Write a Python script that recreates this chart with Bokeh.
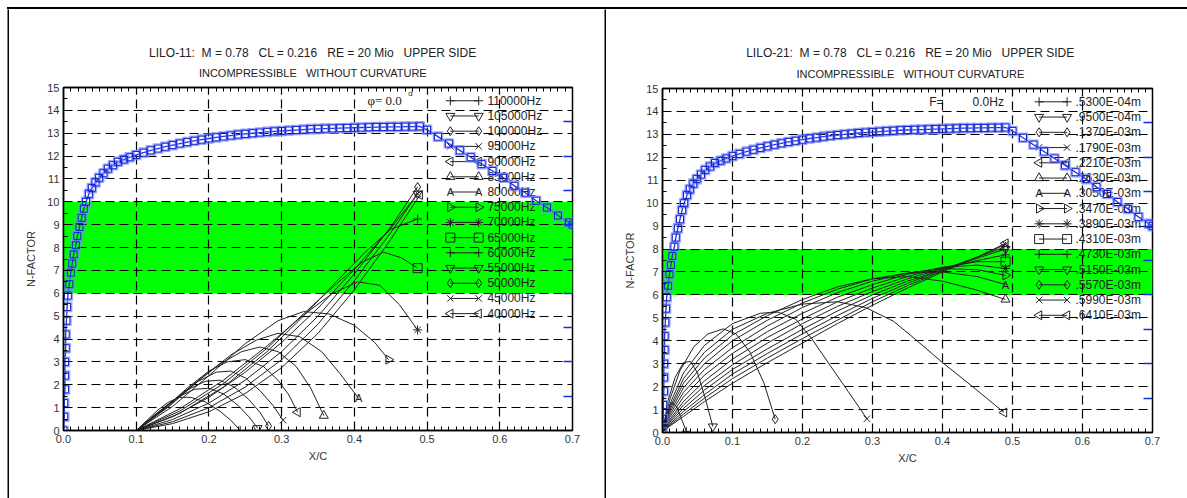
import math
from bokeh.plotting import figure
from bokeh.layouts import row, column
from bokeh.models import (FixedTicker, LinearAxis, Label, BoxAnnotation, Div, Spacer,
                          NumeralTickFormatter, Range1d)
from bokeh.core.properties import value
from bokeh.embed import file_html
from bokeh.resources import INLINE

# ---------------- data ----------------
x_ticks = [0.0, 0.1, 0.2, 0.3, 0.4, 0.5, 0.6, 0.7]
n_ticks = list(range(0, 16))
blue_ticks = [1.5, 3.0, 4.5, 6.0, 7.5, 9.0, 10.5, 12.0, 13.5]

# envelope of the N-factor curves (same on both sides)
env_x = [0.000, 0.001, 0.001, 0.002, 0.002, 0.002, 0.003, 0.003, 0.004, 0.005,
         0.006, 0.008, 0.010, 0.012, 0.014, 0.017, 0.019, 0.022, 0.025, 0.028,
         0.031, 0.035, 0.039, 0.044, 0.049, 0.055, 0.061, 0.068, 0.075, 0.083,
         0.091, 0.100, 0.110, 0.120, 0.130, 0.140, 0.150, 0.160, 0.170, 0.180,
         0.190, 0.200, 0.210, 0.220, 0.230, 0.240, 0.250, 0.260, 0.270, 0.280,
         0.290, 0.300, 0.310, 0.320, 0.330, 0.340, 0.350, 0.360, 0.370, 0.380,
         0.390, 0.400, 0.410, 0.420, 0.430, 0.440, 0.450, 0.460, 0.470, 0.480,
         0.490, 0.500, 0.515, 0.530, 0.545, 0.560, 0.575, 0.590, 0.605, 0.620,
         0.635, 0.650, 0.665, 0.680, 0.695, 0.700]
env_n = [0.00, 0.60, 1.20, 1.80, 2.40, 3.00, 3.60, 4.20, 4.80, 5.40,
         5.90, 6.40, 6.90, 7.30, 7.70, 8.10, 8.50, 8.90, 9.30, 9.70,
         10.00, 10.35, 10.60, 10.85, 11.05, 11.25, 11.45, 11.60, 11.75, 11.85,
         11.95, 12.05, 12.15, 12.25, 12.33, 12.41, 12.48, 12.55, 12.61, 12.67,
         12.72, 12.77, 12.82, 12.86, 12.90, 12.94, 12.97, 13.00, 13.03, 13.06,
         13.08, 13.10, 13.12, 13.14, 13.16, 13.18, 13.19, 13.20, 13.21, 13.22,
         13.23, 13.24, 13.25, 13.26, 13.27, 13.27, 13.28, 13.28, 13.29, 13.29,
         13.30, 13.15, 12.85, 12.55, 12.25, 11.95, 11.65, 11.35, 11.05, 10.70,
         10.40, 10.05, 9.75, 9.40, 9.10, 9.00]

# LILO-11: fixed frequencies
freq_labels = ["110000Hz", "105000Hz", "100000Hz", "95000Hz", "90000Hz",
               "85000Hz", "80000Hz", "75000Hz", "70000Hz", "65000Hz",
               "60000Hz", "55000Hz", "50000Hz", "45000Hz", "40000Hz"]
freq_x = [
    [0.100, 0.115, 0.130, 0.145, 0.160, 0.175, 0.195, 0.215, 0.230, 0.243],
    [0.100, 0.120, 0.140, 0.160, 0.180, 0.200, 0.220, 0.240, 0.255, 0.267],
    [0.100, 0.125, 0.150, 0.175, 0.195, 0.215, 0.235, 0.255, 0.270, 0.282],
    [0.100, 0.130, 0.160, 0.185, 0.210, 0.230, 0.250, 0.270, 0.288, 0.302],
    [0.100, 0.135, 0.170, 0.200, 0.225, 0.250, 0.275, 0.295, 0.310, 0.322],
    [0.100, 0.140, 0.180, 0.215, 0.245, 0.270, 0.295, 0.320, 0.340, 0.358],
    [0.100, 0.145, 0.190, 0.230, 0.265, 0.295, 0.325, 0.355, 0.380, 0.406],
    [0.100, 0.150, 0.200, 0.250, 0.295, 0.330, 0.365, 0.400, 0.428, 0.447],
    [0.100, 0.160, 0.220, 0.280, 0.330, 0.370, 0.405, 0.435, 0.462, 0.487],
    [0.100, 0.160, 0.220, 0.280, 0.330, 0.375, 0.410, 0.440, 0.465, 0.487],
    [0.100, 0.160, 0.220, 0.280, 0.330, 0.375, 0.415, 0.450, 0.487],
    [0.100, 0.150, 0.200, 0.250, 0.300, 0.350, 0.400, 0.450, 0.487],
    [0.100, 0.150, 0.200, 0.250, 0.300, 0.350, 0.400, 0.450, 0.487],
    [0.100, 0.150, 0.200, 0.250, 0.300, 0.350, 0.400, 0.450, 0.487],
    [0.100, 0.150, 0.200, 0.250, 0.300, 0.350, 0.400, 0.450, 0.490],
]
freq_n = [
    [0.00, 0.45, 0.90, 1.25, 1.45, 1.45, 1.25, 0.85, 0.45, 0.00],
    [0.00, 0.55, 1.05, 1.50, 1.80, 1.85, 1.60, 1.10, 0.60, 0.10],
    [0.00, 0.65, 1.30, 1.85, 2.15, 2.20, 1.90, 1.35, 0.80, 0.20],
    [0.00, 0.75, 1.55, 2.15, 2.55, 2.60, 2.30, 1.75, 1.10, 0.45],
    [0.00, 0.85, 1.85, 2.60, 3.00, 3.10, 2.80, 2.20, 1.55, 0.80],
    [0.00, 0.95, 2.05, 2.90, 3.45, 3.65, 3.45, 2.80, 1.85, 0.65],
    [0.00, 1.05, 2.30, 3.30, 3.95, 4.25, 4.10, 3.45, 2.50, 1.40],
    [0.00, 1.05, 2.40, 3.80, 4.80, 5.20, 5.10, 4.60, 3.85, 3.10],
    [0.00, 0.95, 2.20, 3.70, 5.05, 6.00, 6.50, 6.35, 5.50, 4.40],
    [0.00, 0.85, 2.05, 3.60, 5.10, 6.40, 7.35, 7.80, 7.55, 7.10],
    [0.00, 0.75, 1.90, 3.45, 5.00, 6.50, 7.80, 8.80, 9.25],
    [0.00, 0.60, 1.45, 2.55, 3.85, 5.35, 7.05, 8.85, 10.35],
    [0.00, 0.48, 1.20, 2.20, 3.45, 5.00, 6.85, 8.90, 10.65],
    [0.00, 0.38, 1.00, 1.90, 3.10, 4.65, 6.55, 8.65, 10.35],
    [0.00, 0.30, 0.82, 1.62, 2.75, 4.25, 6.15, 8.35, 10.30],
]

# LILO-21: fixed wavelengths
wave_labels = [".5300E-04m", ".9500E-04m", ".1370E-03m", ".1790E-03m", ".2210E-03m",
               ".2630E-03m", ".3050E-03m", ".3470E-03m", ".3890E-03m", ".4310E-03m",
               ".4730E-03m", ".5150E-03m", ".5570E-03m", ".5990E-03m", ".6410E-03m"]
long_x = [0.000, 0.010, 0.030, 0.060, 0.100, 0.150, 0.200, 0.250, 0.300, 0.350, 0.400, 0.450, 0.490]
wave_x = [
    [0.000, 0.006, 0.013, 0.020, 0.027, 0.034],
    [0.000, 0.008, 0.018, 0.030, 0.040, 0.050, 0.060, 0.072],
    [0.000, 0.010, 0.025, 0.045, 0.065, 0.087, 0.105, 0.125, 0.145, 0.161],
    [0.000, 0.010, 0.030, 0.060, 0.100, 0.140, 0.165, 0.190, 0.213, 0.240, 0.265, 0.292],
    [0.000, 0.010, 0.030, 0.060, 0.100, 0.150, 0.200, 0.250, 0.290, 0.330, 0.361, 0.400, 0.445, 0.488],
    long_x, long_x, long_x, long_x, long_x, long_x, long_x, long_x, long_x, long_x,
]
wave_n = [
    [0.00, 0.90, 1.30, 1.15, 0.60, 0.05],
    [0.00, 1.40, 2.40, 3.05, 3.10, 2.60, 1.60, 0.26],
    [0.00, 1.40, 2.70, 3.75, 4.30, 4.52, 4.30, 3.50, 2.15, 0.58],
    [0.00, 1.20, 2.60, 3.80, 4.75, 5.20, 5.25, 4.95, 4.10, 2.90, 1.80, 0.60],
    [0.00, 1.05, 2.35, 3.50, 4.50, 5.20, 5.60, 5.70, 5.45, 4.85, 4.07, 3.05, 1.95, 0.87],
    [0.00, 0.95, 2.15, 3.25, 4.25, 5.10, 5.80, 6.35, 6.70, 6.80, 6.60, 6.20, 5.80],
    [0.00, 0.85, 1.95, 3.00, 4.00, 4.90, 5.65, 6.25, 6.70, 6.95, 7.00, 6.80, 6.45],
    [0.00, 0.75, 1.75, 2.75, 3.70, 4.65, 5.45, 6.10, 6.60, 6.95, 7.15, 7.10, 6.85],
    [0.00, 0.65, 1.55, 2.50, 3.45, 4.40, 5.20, 5.90, 6.45, 6.90, 7.20, 7.30, 7.15],
    [0.00, 0.55, 1.35, 2.25, 3.20, 4.15, 4.95, 5.70, 6.30, 6.80, 7.20, 7.45, 7.45],
    [0.00, 0.48, 1.20, 2.05, 2.95, 3.90, 4.75, 5.50, 6.15, 6.70, 7.15, 7.50, 7.75],
    [0.00, 0.42, 1.05, 1.85, 2.75, 3.65, 4.50, 5.30, 6.00, 6.60, 7.10, 7.60, 8.00],
    [0.00, 0.36, 0.92, 1.65, 2.55, 3.45, 4.30, 5.10, 5.85, 6.50, 7.10, 7.65, 8.10],
    [0.00, 0.31, 0.80, 1.50, 2.35, 3.25, 4.10, 4.90, 5.70, 6.40, 7.05, 7.65, 8.20],
    [0.00, 0.27, 0.70, 1.35, 2.15, 3.05, 3.90, 4.75, 5.55, 6.30, 7.00, 7.65, 8.25],
]

# transition bands (N-factor range)
band_left = (6.0, 10.0)
band_right = (6.0, 8.0)

# ---------------- styling ----------------
FONT = "Liberation Sans"
INK = "#222222"
NB = "\u00a0"  # keeps the wide gaps between title items
SUBTITLE = "INCOMPRESSIBLE   WITHOUT CURVATURE"
SYMBOLS = ["plus", "down", "diamond", "x", "left", "up", "A", "right",
           "star", "square", "plus", "down", "diamond", "x", "left"]
SHAPES = {
    "plus": ("cross", 0.0), "down": ("inverted_triangle", 0.0),
    "diamond": ("diamond", 0.0), "x": ("x", 0.0),
    "left": ("triangle", math.pi / 2), "up": ("triangle", 0.0),
    "right": ("triangle", -math.pi / 2), "star": ("asterisk", 0.0),
    "square": ("square", 0.0),
}


def spaced(text):
    return text.replace("  ", NB + NB)


def put_markers(p, xs, ys, kind):
    if kind == "A":
        p.text(x=xs, y=ys, text=["A"] * len(xs), text_align="center",
               text_baseline="middle", text_font=value(FONT),
               text_font_size="11px", text_color=INK)
    else:
        marker, angle = SHAPES[kind]
        p.scatter(x=xs, y=ys, marker=marker, angle=angle, size=9,
                  line_color=INK, line_width=1, fill_alpha=0)


def block(w, h, color):
    f = figure(width=w, height=h, toolbar_location=None, output_backend="svg",
               x_range=Range1d(0, 1), y_range=Range1d(0, 1), title_location=None,
               x_axis_location=None, y_axis_location=None, min_border=0,
               background_fill_color=color, border_fill_color=color,
               outline_line_color=None)
    f.grid.visible = False
    return f


def heading(width, mb, title, cx, rows_y):
    # strip above a chart holding its two title lines (y counted downward in px)
    h = figure(width=width, height=71, toolbar_location=None, output_backend="svg",
               x_range=Range1d(0, 1), y_range=Range1d(71, 0), title_location=None,
               x_axis_location=None, y_axis_location=None,
               min_border_left=mb[0], min_border_right=mb[1],
               min_border_top=0, min_border_bottom=0,
               background_fill_color="white", border_fill_color="white",
               outline_line_color=None)
    h.grid.visible = False
    h.text(x=[cx], y=[rows_y[0]], text=[spaced(title)],
           text_align="center", text_baseline="middle", text_font=value(FONT),
           text_font_size="12px", text_color=INK)
    h.text(x=[cx], y=[rows_y[1]], text=[spaced(SUBTITLE)],
           text_align="center", text_baseline="middle", text_font=value(FONT),
           text_font_size="11px", text_color=INK)
    return h


def chart(width, mb, band, header, curves_x, curves_n, labels, leg_x):
    p = figure(width=width, height=418, x_range=Range1d(0, 0.7), y_range=Range1d(0, 15),
               output_backend="svg", toolbar_location=None, title_location=None,
               min_border_left=mb[0], min_border_right=mb[1],
               min_border_top=mb[2], min_border_bottom=mb[3],
               background_fill_color="white", border_fill_color="white",
               outline_line_color="black", outline_line_width=1.5)

    xt = FixedTicker(ticks=x_ticks, minor_ticks=[i / 100 for i in range(71)])
    yt = FixedTicker(ticks=n_ticks, minor_ticks=[i / 2 for i in range(31)])

    xa = p.below[0]
    ya = p.left[0]
    for ax, tk in ((xa, xt), (ya, yt)):
        ax.ticker = tk
        ax.major_tick_in = 7
        ax.major_tick_out = 0
        ax.minor_tick_in = 4
        ax.minor_tick_out = 0
        ax.major_tick_line_color = "black"
        ax.minor_tick_line_color = "black"
        ax.axis_line_color = "black"
        ax.axis_line_width = 1.5
        ax.major_label_text_font = FONT
        ax.major_label_text_font_size = "11px"
        ax.major_label_text_color = "#333333"
        ax.axis_label_text_font = FONT
        ax.axis_label_text_font_size = "11px"
        ax.axis_label_text_font_style = "normal"
        ax.axis_label_text_color = "#333333"
    xa.formatter = NumeralTickFormatter(format="0.0")
    xa.axis_label = "X/C"
    xa.major_label_standoff = 4
    xa.axis_label_standoff = 4
    ya.axis_label = "N-FACTOR"
    ya.major_label_standoff = 4
    ya.axis_label_standoff = 7

    # tick-only axes: top edge (black) and the blue scale on the right edge
    top = LinearAxis(ticker=xt, major_label_text_color=None,
                     major_label_text_font_size="1px", major_label_standoff=0,
                     major_tick_in=7, major_tick_out=0, minor_tick_in=4, minor_tick_out=0,
                     axis_line_color="black", axis_line_width=1.5)
    p.add_layout(top, "above")
    blue = LinearAxis(ticker=FixedTicker(ticks=blue_ticks), major_label_text_color=None,
                      major_label_text_font_size="6px", major_label_standoff=0,
                      major_tick_in=9, major_tick_out=0, major_tick_line_color="#1030e0",
                      major_tick_line_width=1.5, minor_tick_line_color=None,
                      axis_line_color=None)
    p.add_layout(blue, "right")

    p.xgrid.ticker = xt
    p.ygrid.ticker = yt
    for g in (p.xgrid, p.ygrid):
        g.grid_line_color = "black"
        g.grid_line_dash = "9 5"
        g.grid_line_width = 1.2

    p.add_layout(BoxAnnotation(bottom=band[0], top=band[1], level="image",
                               fill_color="#00ff00", fill_alpha=1.0, line_alpha=0))

    # stability curves with their end markers
    for xs, ns, kind in zip(curves_x, curves_n, SYMBOLS):
        p.line(xs, ns, line_color=INK, line_width=1)
        put_markers(p, [xs[-1]], [ns[-1]], kind)

    # legend: line with a marker at each end, then the label
    rows_y = [14.42 - 0.665 * i for i in range(len(labels))]
    p.segment(x0=[leg_x[0]] * len(labels), y0=rows_y, x1=[leg_x[1]] * len(labels), y1=rows_y,
              line_color=INK, line_width=1)
    for yv, kind in zip(rows_y, SYMBOLS):
        put_markers(p, [leg_x[0], leg_x[1]], [yv, yv], kind)
    p.text(x=[leg_x[2]] * len(labels), y=rows_y, text=labels, text_align="left",
           text_baseline="middle", text_font=value(FONT), text_font_size="12px",
           text_color=INK)

    # envelope
    p.line(env_x, env_n, line_color="#2030e0", line_width=1.3)
    p.scatter(env_x, env_n, marker="square", size=9, line_color="#7a88ff",
              line_alpha=0.75, line_width=1.6, fill_alpha=0)
    p.scatter(env_x, env_n, marker="square", size=7, line_color="#1020d0",
              line_width=1, fill_alpha=0)

    for hx, hy, htxt, hfont, hsize in header:
        p.add_layout(Label(x=hx, y=hy, text=htxt, text_align="left", text_baseline="middle",
                           text_font=hfont, text_font_size=hsize, text_color=INK))
    return p


left_head = heading(595, (54, 32),
                    "LILO-11:  M = 0.78   CL = 0.216   RE = 20 Mio   UPPER SIDE",
                    0.49, [43, 63])
left = chart(595, (54, 32, 7, 68), band_left,
             [(0.418, 14.42, "\u03c6= 0.0", "Liberation Serif", "13px"),
              (0.474, 14.72, "d", FONT, "8px")],
             freq_x, freq_n, freq_labels, (0.532, 0.571, 0.583))

right_head = heading(581, (56, 35),
                     "LILO-21:  M = 0.78   CL = 0.216   RE = 20 Mio   UPPER SIDE",
                     0.506, [43, 64])
right = chart(581, (56, 35, 8, 66), band_right,
              [(0.381, 14.42, "F=", FONT, "12px"),
               (0.443, 14.42, "0.0Hz", FONT, "12px")],
              wave_x, wave_n, wave_labels, (0.538, 0.578, 0.590))

# table rules framing the two cells
top_rule = Div(text="", width=1180, height=2, margin=0,
               styles={"background-color": "black"})
top_strip = column(Spacer(width=1187, height=7, margin=0),
                   row(Spacer(width=7, height=2, margin=0), top_rule))
body = row(block(7, 489, "white"), block(2, 489, "black"),
           column(left_head, left), block(2, 489, "black"),
           column(right_head, right))
page = column(top_strip, body)

open("out.html", "w").write(file_html(page, INLINE))
